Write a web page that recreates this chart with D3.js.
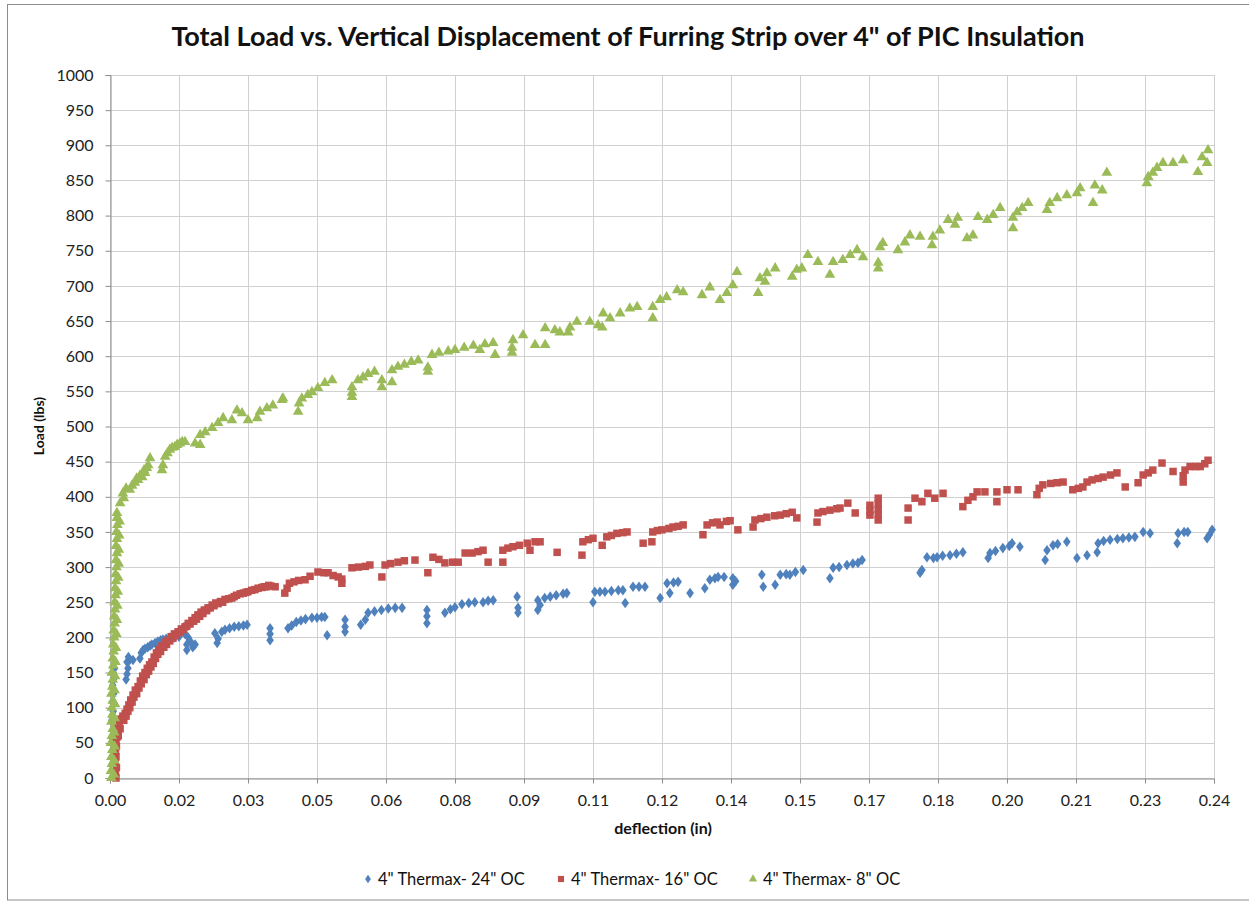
<!DOCTYPE html>
<html><head><meta charset="utf-8">
<script src="https://cdn.jsdelivr.net/npm/d3@7"></script>
<style>body{margin:0;background:#fff}svg{display:block}</style>
</head><body>
<svg id="c" width="1249" height="903"></svg>
<script>
const xTicks = [0,0.015,0.03,0.045,0.06,0.075,0.09,0.105,0.12,0.135,0.15,0.165,0.18,0.195,0.21,0.225,0.24];
const yTicks = d3.range(0,1001,50);
const seriesNames = ['4" Thermax- 24" OC','4" Thermax- 16" OC','4" Thermax- 8" OC'];
const seriesColors = ["#4F81BD","#C0504D","#9BBB59"];

const blue24 = [[0.0004,57],[0.0006,68],[0.0004,82],[0.0007,95],[0.0005,108],[0.0008,120],[0.0006,132],[0.0009,142],[0.0007,150],[0.0010,156],
[0.0035,140],[0.0037,148],[0.0039,156],[0.0037,165],[0.0040,172],[0.0043,168],[0.0050,168],[0.0065,170],[0.0068,178],[0.0072,182],[0.0076,184],[0.0082,186],[0.0087,188],[0.0091,190],[0.0098,192],[0.0104,194],[0.0110,196],[0.0115,197],[0.0122,198],[0.0130,200],[0.0140,200],[0.0150,201],[0.0163,205],[0.0167,182],[0.0167,190],[0.0170,200],[0.0175,194],[0.0180,186],[0.0185,190],
[0.0228,206],[0.0233,192],[0.0235,198],[0.0243,208],[0.0250,211],[0.0260,213],[0.0270,215],[0.0280,216],[0.0290,217],[0.0298,218],
[0.0348,213],[0.0348,196],[0.0348,205],
[0.0387,213],[0.0395,217],[0.0405,222],[0.0415,224],[0.0425,226],[0.0439,228],[0.0450,228],[0.0460,229],[0.0467,229],[0.0472,203],
[0.0511,225],[0.0511,208],[0.0511,215],
[0.0545,218],[0.0555,225],[0.0561,235],[0.0575,237],[0.0590,239],[0.0605,241],[0.0620,242],[0.0635,242],
[0.0689,239],[0.0689,220],[0.0689,230],
[0.0728,235],[0.0740,240],[0.0750,243],[0.0765,247],[0.0780,249],[0.0793,250],[0.0811,250],[0.0822,252],[0.0833,253],
[0.0885,258],[0.0887,242],[0.0887,235],
[0.0930,253],[0.0930,239],[0.0935,246],[0.0945,256],[0.0957,258],[0.0970,260],[0.0985,262],[0.0993,263],
[0.1050,250],[0.1054,265],[0.1065,265],[0.1076,265],[0.1090,266],[0.1105,267],[0.1120,249],[0.1115,267],
[0.1137,272],[0.1150,272],[0.1163,272],[0.1196,256],[0.1211,277],[0.1217,263],[0.1225,278],[0.1235,279],[0.1261,263],
[0.1293,270],[0.1304,282],[0.1315,284],[0.1322,286],[0.1335,286],[0.1354,284],[0.1354,275],[0.1360,280],
[0.1417,289],[0.1420,272],[0.1446,275],[0.1457,289],[0.1470,290],[0.1478,289],[0.1490,293],[0.1507,296],
[0.1565,284],[0.1572,299],[0.1585,300],[0.1602,303],[0.1615,305],[0.1626,306],[0.1635,310],
[0.1761,292],[0.1765,296],[0.1776,314],[0.1790,313],[0.1798,314],[0.1810,316],[0.1826,317],[0.1840,319],[0.1854,321],
[0.1909,313],[0.1913,320],[0.1925,323],[0.1941,327],[0.1955,330],[0.1961,334],[0.1978,329],
[0.2033,310],[0.2037,324],[0.2050,331],[0.2060,333],[0.2080,336],[0.2102,313],[0.2124,317],[0.2146,321],[0.2148,334],[0.2160,337],[0.2174,339],[0.2190,340],[0.2202,341],[0.2215,342],[0.2228,343],[0.2246,350],[0.2261,348],
[0.2320,334],[0.2322,348],[0.2335,350],[0.2343,350],[0.2385,341],[0.2390,346],[0.2396,353]];

const red16 = [[0.0013,0],[0.0012,8],[0.0014,15],[0.0011,22],[0.0013,30],[0.0012,38],[0.0014,45],[0.0013,52],[0.0015,58],[0.0016,65],[0.0017,72],[0.0020,78],[0.0024,84],[0.0028,88],[0.0033,92],[0.0037,98],[0.0041,104],[0.0045,111],[0.0050,118],[0.0055,125],[0.0061,130],[0.0066,138],[0.0071,145],[0.0076,150],[0.0081,156],[0.0086,161],[0.0091,165],[0.0096,172],[0.0101,178],[0.0106,183],[0.0113,188],[0.0120,193],[0.0126,196],[0.0133,201],[0.0140,205],[0.0148,208],[0.0155,212],[0.0163,215],[0.0170,220],[0.0178,224],[0.0185,228],[0.0191,232],[0.0198,236],[0.0205,239],[0.0213,242],[0.0222,246],[0.0230,249],[0.0240,251],[0.0250,254],[0.0265,256],[0.0275,260],[0.0290,263],[0.0300,265],[0.0315,268],[0.0330,271],[0.0340,272],[0.0350,273],[0.0359,272],
[0.0018,60],[0.0022,70],[0.0030,82],[0.0035,88],[0.0039,95],[0.0043,100],[0.0048,108],[0.0052,115],[0.0058,120],[0.0063,128],[0.0068,134],[0.0074,140],[0.0079,147],[0.0084,152],[0.0089,158],[0.0094,163],[0.0099,170],[0.0104,176],[0.0110,180],[0.0117,186],[0.0123,190],[0.0130,195],[0.0137,199],[0.0144,203],[0.0152,207],[0.0160,211],[0.0167,216],[0.0174,219],[0.0182,223],[0.0188,226],[0.0195,230],[0.0202,234],[0.0210,238],[0.0218,242],[0.0226,245],[0.0235,248],[0.0245,250],[0.0258,255],[0.0270,258],[0.0283,262],[0.0295,264],[0.0308,267],[0.0322,270],[0.0335,272],[0.0345,274],
[0.0380,263],[0.0385,270],[0.0390,277],[0.0400,279],[0.0410,281],[0.0424,282],[0.0435,287],[0.0452,293],[0.0465,292],[0.0474,292],[0.0485,288],[0.0496,286],[0.0504,277],[0.0504,283],[0.0526,299],[0.0540,300],[0.0555,301],[0.0565,303],[0.0591,286],[0.0598,303],[0.0610,305],[0.0626,307],[0.0640,309],[0.0663,310],[0.0691,292],[0.0702,314],[0.0715,311],[0.0728,306],[0.0745,307],[0.0757,307],[0.0772,320],[0.0787,320],[0.0800,322],[0.0811,324],[0.0822,307],[0.0854,307],[0.0854,324],[0.0865,327],[0.0876,329],[0.0890,331],[0.0907,334],[0.0913,324],[0.0924,336],[0.0935,336],[0.0972,321],[0.1026,317],[0.1028,336],[0.1040,339],[0.1050,341],[0.1070,331],[0.1080,343],[0.1090,345],[0.1102,348],[0.1115,349],[0.1124,350],[0.1159,334],[0.1178,336],[0.1180,350],[0.1190,352],[0.1200,353],[0.1215,355],[0.1224,357],[0.1235,358],[0.1246,360],[0.1289,346],[0.1298,360],[0.1310,363],[0.1320,364],[0.1326,360],[0.1340,365],[0.1348,366],[0.1365,353],[0.1398,357],[0.1402,367],[0.1415,369],[0.1428,371],[0.1445,373],[0.1457,374],[0.1470,376],[0.1483,378],[0.1493,370],[0.1537,364],[0.1539,377],[0.1550,379],[0.1565,381],[0.1580,383],[0.1587,384],[0.1604,391],[0.1620,377],[0.1652,374],[0.1652,380],[0.1652,388],[0.1670,398],[0.1670,367],[0.1670,375],[0.1670,382],[0.1670,390],[0.1735,384],[0.1735,367],[0.1750,398],[0.1765,393],[0.1778,405],[0.1793,398],[0.1811,405],[0.1854,386],[0.1865,395],[0.1876,400],[0.1885,407],[0.1902,407],[0.1928,407],[0.1928,393],[0.1950,410],[0.1974,410],[0.2015,403],[0.2020,412],[0.2028,417],[0.2045,419],[0.2059,420],[0.2072,421],[0.2093,410],[0.2105,412],[0.2115,414],[0.2124,421],[0.2135,424],[0.2148,426],[0.2159,428],[0.2175,431],[0.2189,434],[0.2207,414],[0.2235,420],[0.2246,431],[0.2257,434],[0.2267,438],[0.2287,448],[0.2311,436],[0.2333,421],[0.2333,430],[0.2337,438],[0.2348,443],[0.2360,443],[0.2370,443],[0.2380,447],[0.2387,452]];

const green8 = [[0.0003,0],[0.0002,10],[0.0004,20],[0.0003,30],[0.0005,40],[0.0002,50],[0.0004,60],[0.0006,70],[0.0003,80],[0.0005,90],[0.0004,100],[0.0006,110],[0.0003,120],[0.0005,130],[0.0006,140],[0.0004,150],[0.0007,160],[0.0006,170],[0.0008,180],[0.0007,190],[0.0009,200],[0.0008,210],[0.0010,220],[0.0009,230],[0.0011,240],[0.0010,250],[0.0012,260],[0.0011,270],[0.0013,280],[0.0012,290],[0.0014,300],[0.0013,310],[0.0015,320],[0.0013,330],[0.0015,340],[0.0014,350],[0.0016,360],[0.0015,370],
[0.0008,5],[0.0009,25],[0.0010,45],[0.0009,65],[0.0010,85],[0.0011,105],[0.0010,125],[0.0011,145],[0.0012,165],[0.0013,185],[0.0014,205],[0.0015,225],[0.0016,245],[0.0017,265],[0.0018,285],[0.0019,305],[0.0019,325],[0.0020,345],[0.0021,365],
[0.0015,377],[0.0022,391],[0.0028,405],[0.0030,398],[0.0035,412],[0.0043,410],[0.0048,416],[0.0054,420],[0.0058,426],[0.0061,424],[0.0065,430],[0.0070,428],[0.0074,438],[0.0076,434],[0.0080,441],[0.0083,445],[0.0087,455],[0.0113,438],[0.0115,445],[0.0120,457],[0.0125,462],[0.0130,467],[0.0135,470],[0.0141,471],[0.0146,474],[0.0152,476],[0.0157,478],[0.0163,478],[0.0185,476],[0.0196,474],[0.0196,488],[0.0207,492],[0.0222,498],[0.0235,505],[0.0246,512],[0.0265,509],[0.0276,523],[0.0287,519],[0.0300,509],[0.0320,512],[0.0326,521],[0.0341,526],[0.0354,530],[0.0374,538],[0.0376,540],[0.0409,521],[0.0411,533],[0.0417,540],[0.0430,545],[0.0439,549],[0.0452,555],[0.0467,562],[0.0483,566],[0.0526,542],[0.0526,548],[0.0526,556],[0.0539,566],[0.0550,570],[0.0561,575],[0.0575,578],[0.0591,556],[0.0591,566],[0.0613,563],[0.0613,580],[0.0626,585],[0.0640,588],[0.0655,592],[0.0670,594],[0.0691,578],[0.0691,584],[0.0700,602],[0.0715,605],[0.0735,607],[0.0750,609],[0.0770,612],[0.0790,615],[0.0804,609],[0.0815,617],[0.0833,619],[0.0837,602],[0.0874,605],[0.0874,612],[0.0876,623],[0.0898,630],[0.0924,616],[0.0946,616],[0.0946,640],[0.0967,637],[0.0978,634],[0.0996,634],[0.1000,641],[0.1015,649],[0.1043,649],[0.1061,644],[0.1070,641],[0.1072,661],[0.1087,654],[0.1109,661],[0.1130,668],[0.1146,670],[0.1180,654],[0.1180,670],[0.1196,680],[0.1210,684],[0.1233,694],[0.1246,691],[0.1287,687],[0.1304,698],[0.1326,680],[0.1341,690],[0.1354,701],[0.1363,720],[0.1409,690],[0.1413,711],[0.1424,706],[0.1428,718],[0.1446,725],[0.1483,713],[0.1493,723],[0.1504,725],[0.1517,744],[0.1539,734],[0.1565,716],[0.1572,734],[0.1593,737],[0.1609,744],[0.1624,751],[0.1637,741],[0.1670,733],[0.1670,725],[0.1674,755],[0.1680,761],[0.1713,751],[0.1728,762],[0.1739,772],[0.1761,770],[0.1787,758],[0.1789,770],[0.1804,779],[0.1822,794],[0.1837,787],[0.1843,797],[0.1863,768],[0.1876,772],[0.1887,798],[0.1907,794],[0.1920,801],[0.1935,811],[0.1963,782],[0.1963,797],[0.1972,805],[0.1983,811],[0.1996,818],[0.2037,808],[0.2043,818],[0.2059,825],[0.2080,829],[0.2102,832],[0.2109,839],[0.2137,818],[0.2141,843],[0.2157,836],[0.2167,861],[0.2254,846],[0.2257,855],[0.2267,861],[0.2276,868],[0.2289,875],[0.2311,875],[0.2333,879],[0.2365,862],[0.2374,883],[0.2385,875],[0.2387,893]];

const svg = d3.select("#c");
const L = 110, R = 1214, T = 75, B = 778;
const x = d3.scaleLinear().domain([0,0.24]).range([L,R]);
const y = d3.scaleLinear().domain([0,1000]).range([B,T]);
const font = "Lato, 'Open Sans', sans-serif";

// outer border
svg.append("rect").attr("x",7.5).attr("y",4.5).attr("width",1260).attr("height",895.5)
  .attr("fill","#fff").attr("stroke","#8c8c8c").attr("stroke-width",1);

// gridlines
svg.append("g").selectAll("line").data(yTicks).join("line")
  .attr("x1",L).attr("x2",R).attr("y1",d=>Math.round(y(d))+0.5).attr("y2",d=>Math.round(y(d))+0.5)
  .attr("stroke","#d0d0d0").attr("stroke-width",1);
svg.append("g").selectAll("line").data(xTicks).join("line")
  .attr("y1",T).attr("y2",B).attr("x1",d=>Math.round(x(d))+0.5).attr("x2",d=>Math.round(x(d))+0.5)
  .attr("stroke","#d0d0d0").attr("stroke-width",1);

// axes
const yAxis = d3.axisLeft(y).tickValues(yTicks).tickSize(5).tickPadding(12).tickFormat(d3.format("d"));
const xAxis = d3.axisBottom(x).tickValues(xTicks).tickSize(5).tickPadding(11).tickFormat(d=>d3.format(".2f")(d+1e-9));
const gy = svg.append("g").attr("transform",`translate(${L+0.5},0)`).call(yAxis);
const gx = svg.append("g").attr("transform",`translate(0,${B+0.5})`).call(xAxis);
[gx,gy].forEach(g=>{
  g.select(".domain").attr("stroke","#8c8c8c");
  g.selectAll(".tick line").attr("stroke","#8c8c8c");
  g.selectAll("text").attr("font-family",font).attr("font-size",16).attr("fill","#222");
});

// markers
const plot = svg.append("g");
const sym = [d3.symbolDiamond, d3.symbolSquare, d3.symbolTriangle];
const sizes = [32, 56, 50];
[blue24, red16, green8].forEach((data,i)=>{
  const path = d3.symbol().type(sym[i]).size(sizes[i]);
  plot.append("g").selectAll("path").data(data).join("path")
    .attr("transform",d=>`translate(${x(d[0])},${y(d[1])})${i===0?" scale(1.25,1)":""}`)
    .attr("d",path).attr("fill",seriesColors[i]);
});

// title
svg.append("text").attr("x",628).attr("y",46).attr("text-anchor","middle")
  .attr("font-family",font).attr("font-weight","bold").attr("font-size",27).attr("fill","#111")
  .text('Total Load vs. Vertical Displacement  of Furring Strip over 4" of PIC Insulation');

// axis titles
svg.append("text").attr("transform","translate(44,426) rotate(-90)").attr("text-anchor","middle")
  .attr("font-family",font).attr("font-weight","bold").attr("font-size",14).attr("fill","#111").text("Load (lbs)");
svg.append("text").attr("x",663).attr("y",834).attr("text-anchor","middle")
  .attr("font-family",font).attr("font-weight","bold").attr("font-size",16).attr("fill","#111").text("deflection (in)");

// legend
const legX = [368, 561, 753];
const leg = svg.append("g");
seriesNames.forEach((n,i)=>{
  const path = d3.symbol().type(sym[i]).size([20,38,30][i]);
  leg.append("path").attr("transform",`translate(${legX[i]},${879})${i===0?" scale(1.2,1)":""}`).attr("d",path).attr("fill",seriesColors[i]);
  leg.append("text").attr("x",legX[i]+10).attr("y",885).attr("font-family",font).attr("font-size",16.5).attr("fill","#111").text(n);
});
</script>
</body></html>
